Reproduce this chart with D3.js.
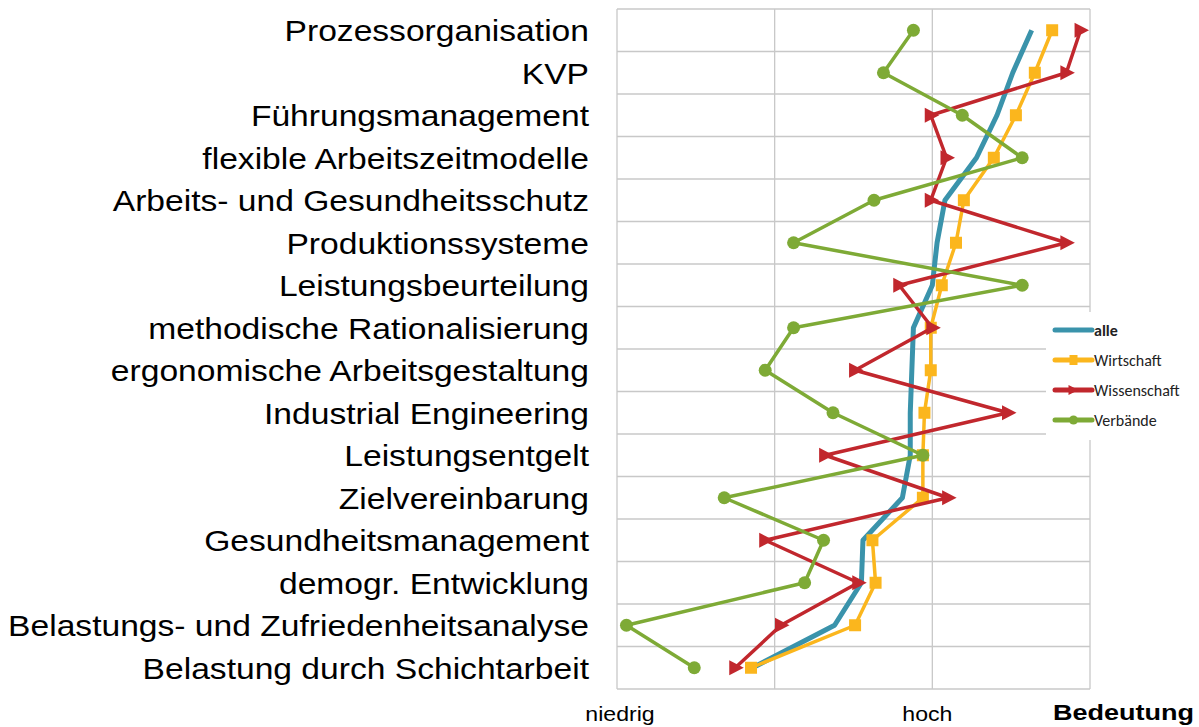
<!DOCTYPE html>
<html>
<head>
<meta charset="utf-8">
<script src="https://cdn.jsdelivr.net/npm/d3@7"></script>
<style>
  body { margin: 0; background: #fff; }
  svg { display: block; }
</style>
</head>
<body>
<script>
var categories = [
  "Prozessorganisation", "KVP", "Führungsmanagement", "flexible Arbeitszeitmodelle",
  "Arbeits- und Gesundheitsschutz", "Produktionssysteme", "Leistungsbeurteilung",
  "methodische Rationalisierung", "ergonomische Arbeitsgestaltung", "Industrial Engineering",
  "Leistungsentgelt", "Zielvereinbarung", "Gesundheitsmanagement", "demogr. Entwicklung",
  "Belastungs- und Zufriedenheitsanalyse", "Belastung durch Schichtarbeit"
];
var alle        = [3.63, 3.51, 3.41, 3.28, 3.08, 3.03, 3.00, 2.88, 2.87, 2.86, 2.86, 2.81, 2.56, 2.55, 2.38, 1.86];
var wirtschaft  = [3.76, 3.65, 3.53, 3.39, 3.20, 3.15, 3.06, 2.99, 2.99, 2.95, 2.94, 2.94, 2.62, 2.64, 2.51, 1.85];
var wissenschaft = [3.94, 3.85, 2.99, 3.09, 2.99, 3.85, 2.79, 3.00, 2.51, 3.48, 2.32, 3.10, 1.94, 2.53, 2.04, 1.75];
var verbaende   = [2.88, 2.69, 3.19, 3.57, 2.63, 2.12, 3.57, 2.12, 1.94, 2.37, 2.94, 1.68, 2.31, 2.19, 1.06, 1.49];
var xTicks = [1, 2, 3, 4];
var xTickLabels = { 1: "niedrig", 3: "hoch" };

var series = [
  { name: "alle", values: alle, color: "#3a93ab", width: 5, marker: "none" },
  { name: "Wirtschaft", values: wirtschaft, color: "#fbb61d", width: 3.5, marker: "square" },
  { name: "Wissenschaft", values: wissenschaft, color: "#c1272d", width: 3.5, marker: "triangle" },
  { name: "Verbände", values: verbaende, color: "#7eaa36", width: 3.5, marker: "circle" }
];

var W = 1199, H = 727;
var plot = { left: 617, right: 1090, top: 9, bottom: 689 };
var stretch = 1.12; // labels in the original are a bit wider than Arial

var svg = d3.select("body").append("svg")
    .attr("width", W)
    .attr("height", H);

var xScale = d3.scaleLinear().domain([1, 4]).range([plot.left, plot.right]);
var yBand = d3.scaleBand().domain(categories).range([plot.top, plot.bottom]);
var yMid = function (c) { return yBand(c) + yBand.bandwidth() / 2; };

function widen(sel, f) {
  sel.each(function () {
    var len = this.getComputedTextLength();
    d3.select(this).attr("textLength", len * f).attr("lengthAdjust", "spacingAndGlyphs");
  });
}

// grid
var grid = svg.append("g").attr("stroke", "#c8c8c8").attr("stroke-width", 1.3);
grid.selectAll(".v").data(xTicks).enter().append("line")
    .attr("x1", function (d) { return xScale(d); })
    .attr("x2", function (d) { return xScale(d); })
    .attr("y1", plot.top).attr("y2", plot.bottom);
var hLines = d3.range(categories.length + 1).map(function (i) { return plot.top + i * yBand.step(); });
grid.selectAll(".h").data(hLines).enter().append("line")
    .attr("x1", plot.left).attr("x2", plot.right)
    .attr("y1", function (d) { return d; })
    .attr("y2", function (d) { return d; });

// category labels
svg.append("g").selectAll("text").data(categories).enter().append("text")
    .attr("x", 589)
    .attr("y", function (d) { return yMid(d); })
    .attr("dy", "0.36em")
    .attr("text-anchor", "end")
    .attr("font-family", "Liberation Sans, Arial, sans-serif")
    .attr("font-size", 30)
    .attr("fill", "#000")
    .text(function (d) { return d; })
    .call(widen, stretch);

// x labels
svg.append("g").selectAll("text").data(xTicks.filter(function (t) { return xTickLabels[t]; }))
  .enter().append("text")
    .attr("x", function (d) { return xScale(d) + (d === 1 ? 3 : -5); })
    .attr("y", 721)
    .attr("text-anchor", "middle")
    .attr("font-family", "Liberation Sans, Arial, sans-serif")
    .attr("font-size", 21)
    .text(function (d) { return xTickLabels[d]; })
    .call(widen, 1.1);

svg.append("text")
    .attr("x", 1053).attr("y", 720)
    .attr("font-family", "Liberation Sans, Arial, sans-serif")
    .attr("font-size", 22)
    .attr("font-weight", "bold")
    .text("Bedeutung")
    .attr("textLength", 141)
    .attr("lengthAdjust", "spacingAndGlyphs");

var line = d3.line()
    .x(function (d) { return xScale(d.v); })
    .y(function (d) { return yMid(d.c); });

var triangle = "M-6,-7.5L8.5,0L-6,7.5Z";

function drawMarker(g, type, color) {
  if (type === "square") {
    g.append("rect").attr("x", -6).attr("y", -6).attr("width", 12).attr("height", 12).attr("fill", color);
  } else if (type === "circle") {
    g.append("circle").attr("r", 6.5).attr("fill", color);
  } else if (type === "triangle") {
    g.append("path").attr("d", triangle).attr("fill", color);
  }
}

series.forEach(function (s) {
  var pts = s.values.map(function (v, i) { return { v: v, c: categories[i] }; });
  var g = svg.append("g");
  g.append("path")
      .datum(pts)
      .attr("d", line)
      .attr("fill", "none")
      .attr("stroke", s.color)
      .attr("stroke-width", s.width)
      .attr("stroke-linejoin", "round");
  g.selectAll("g.m").data(pts).enter().append("g")
      .attr("transform", function (d) { return "translate(" + xScale(d.v) + "," + yMid(d.c) + ")"; })
      .each(function () { drawMarker(d3.select(this), s.marker, s.color); });
});

// legend
var legend = svg.append("g").attr("transform", "translate(1046,312)");
legend.append("rect").attr("width", 153).attr("height", 128).attr("fill", "#fff");
series.forEach(function (s, i) {
  var row = legend.append("g").attr("transform", "translate(9," + (18 + i * 30) + ")");
  row.append("line").attr("x1", 0).attr("x2", 37)
      .attr("stroke", s.color).attr("stroke-width", 5).attr("stroke-linecap", "round");
  var m = row.append("g").attr("transform", "translate(18.5,0)");
  if (s.marker === "square") m.append("rect").attr("x", -4).attr("y", -5).attr("width", 8).attr("height", 10).attr("fill", s.color);
  else if (s.marker === "triangle") m.append("path").attr("d", "M-5,-5L5,0L-5,5Z").attr("fill", s.color);
  else if (s.marker === "circle") m.append("circle").attr("r", 4.5).attr("fill", s.color);
  row.append("text").attr("x", 39).attr("dy", "0.35em")
      .attr("font-family", "Carlito, Calibri, Liberation Sans, sans-serif")
      .attr("font-size", 16)
      .attr("fill", "#222")
      .attr("font-weight", i === 0 ? "bold" : "normal")
      .text(s.name);
});
</script>
</body>
</html>
